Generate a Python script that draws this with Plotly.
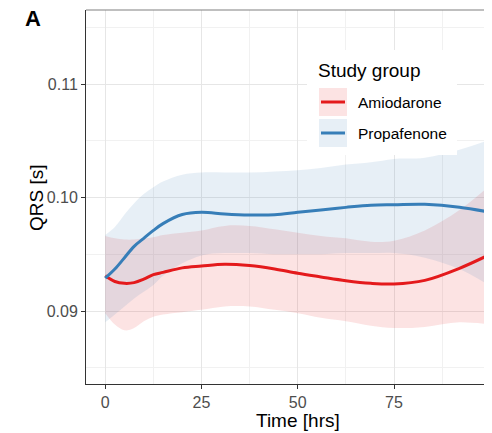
import plotly.graph_objects as go

# ---------------- data ----------------
time_hrs = [0, 2.5, 5, 7.5, 10, 12.5, 15, 20, 25, 31, 37.5, 44, 50, 56, 62.5, 69, 75, 83, 92, 100]

amio_fit = [0.0931, 0.0926, 0.09244, 0.0925, 0.0928, 0.0932, 0.0934, 0.0938, 0.09396, 0.09412,
            0.09400, 0.09370, 0.09332, 0.09300, 0.09267, 0.09244, 0.09238, 0.09270, 0.09376, 0.0950]
amio_upper = [0.0966, 0.0964, 0.0963, 0.0963, 0.0964, 0.0965, 0.0967, 0.0969, 0.0971, 0.0975,
              0.0975, 0.0972, 0.0969, 0.0966, 0.0964, 0.0961, 0.0962, 0.0971, 0.0989, 0.1011]
amio_lower = [0.0898, 0.0888, 0.0883, 0.0885, 0.0891, 0.0895, 0.0897, 0.0899, 0.0901, 0.0904,
              0.0904, 0.0901, 0.0898, 0.0894, 0.0891, 0.0887, 0.0885, 0.0886, 0.0890, 0.0888]

prop_fit = [0.0929, 0.0937, 0.0947, 0.0957, 0.0964, 0.0971, 0.0977, 0.0985, 0.0987, 0.09855,
            0.09846, 0.09848, 0.09870, 0.09890, 0.09913, 0.09932, 0.09936, 0.09940, 0.09915, 0.0987]
prop_upper = [0.0967, 0.0974, 0.0985, 0.0995, 0.1003, 0.1009, 0.1014, 0.1020, 0.1022, 0.1022,
              0.1022, 0.1023, 0.1024, 0.1026, 0.1029, 0.1031, 0.1034, 0.1035, 0.1042, 0.1051]
prop_lower = [0.0890, 0.0897, 0.0904, 0.0911, 0.0917, 0.0923, 0.0931, 0.0942, 0.0949, 0.0951,
              0.0951, 0.0950, 0.0950, 0.0950, 0.0951, 0.0951, 0.0951, 0.0947, 0.0937, 0.0922]

groups = ["Amiodarone", "Propafenone"]
x_ticks = [0, 25, 50, 75, 100]
y_ticks = [0.09, 0.10, 0.11]
y_tick_labels = ["0.09", "0.10", "0.11"]

RED = "#E41A1C"
BLUE = "#377EB8"
RED_FILL = "rgba(228,26,28,0.12)"
BLUE_FILL = "rgba(55,126,184,0.12)"

# the page body adds an 8px offset; positions below are given in page pixels
OFF = 8
W, H = 492, 433
ML = 86 - OFF
MT = 10 - OFF
PW = 492 - OFF - ML
MR = W - ML - PW
PH = 384 - 10
MB = H - MT - PH


def px(xp):
    return (xp - OFF - ML) / PW


def py(yp):
    return (MT + PH - (yp - OFF)) / PH


fig = go.Figure()

# ribbons
for upper, lower, fill in [(amio_upper, amio_lower, RED_FILL), (prop_upper, prop_lower, BLUE_FILL)]:
    fig.add_trace(go.Scatter(x=time_hrs, y=upper, mode="lines", line=dict(width=0, shape="spline"),
                             showlegend=False, hoverinfo="skip"))
    fig.add_trace(go.Scatter(x=time_hrs, y=lower, mode="lines", line=dict(width=0, shape="spline"),
                             fill="tonexty", fillcolor=fill, showlegend=False, hoverinfo="skip"))

# fitted lines
fig.add_trace(go.Scatter(x=time_hrs, y=amio_fit, mode="lines", name=groups[0],
                         line=dict(color=RED, width=3, shape="spline"), showlegend=False))
fig.add_trace(go.Scatter(x=time_hrs, y=prop_fit, mode="lines", name=groups[1],
                         line=dict(color=BLUE, width=3, shape="spline"), showlegend=False))

FONT = "Liberation Sans, Arial, Helvetica, sans-serif"

fig.update_layout(
    width=W, height=H,
    margin=dict(l=ML, r=MR, t=MT, b=MB),
    paper_bgcolor="white", plot_bgcolor="white",
    font=dict(family=FONT, color="black"),
    showlegend=False,
)

fig.update_xaxes(
    range=[-5, -5 + PW / 3.85], tickmode="array", tickvals=x_ticks,
    ticktext=[str(v) for v in x_ticks],
    showgrid=True, gridcolor="#e6e6e6", gridwidth=1.2,
    minor=dict(tickmode="array", tickvals=[12.5, 37.5, 62.5, 87.5], showgrid=True,
               gridcolor="#f1f1f1", gridwidth=1),
    zeroline=False, showline=True, linecolor="#333333", linewidth=1,
    ticks="outside", ticklen=4, tickcolor="#333333", tickwidth=1,
    tickfont=dict(size=16, color="#4d4d4d", family=FONT), automargin=False,
)
fig.update_yaxes(
    range=[0.10 - 186.5 / 11350, 0.10 + 187.5 / 11350], tickmode="array",
    tickvals=y_ticks, ticktext=y_tick_labels,
    showgrid=True, gridcolor="#e6e6e6", gridwidth=1.2,
    minor=dict(tickmode="array", tickvals=[0.085, 0.095, 0.105, 0.115], showgrid=True,
               gridcolor="#f1f1f1", gridwidth=1),
    zeroline=False, showline=True, linecolor="#333333", linewidth=1,
    ticks="outside", ticklen=4, tickcolor="#333333", tickwidth=1,
    tickfont=dict(size=16, color="#4d4d4d", family=FONT), automargin=False,
)

shapes = []
# top panel border
shapes.append(dict(type="line", xref="paper", yref="paper", x0=0, x1=1, y0=1, y1=1,
                   line=dict(color="#808080", width=1.2), layer="above"))
# legend box
shapes.append(dict(type="rect", xref="paper", yref="paper", x0=px(307), x1=px(457), y0=py(155), y1=py(50),
                   fillcolor="white", line=dict(width=0), layer="above"))
keys = [(RED_FILL, RED, 88, 116), (BLUE_FILL, BLUE, 119, 147)]
for fillc, linec, top, bot in keys:
    shapes.append(dict(type="rect", xref="paper", yref="paper", x0=px(319), x1=px(347), y0=py(bot), y1=py(top),
                       fillcolor=fillc, line=dict(width=0), layer="above"))
    mid = (top + bot) / 2
    shapes.append(dict(type="line", xref="paper", yref="paper", x0=px(321), x1=px(345), y0=py(mid), y1=py(mid),
                       line=dict(color=linec, width=3), layer="above"))
fig.update_layout(shapes=shapes)

annotations = [
    dict(text="Study group", xref="paper", yref="paper", x=px(316), y=py(71), xanchor="left",
         yanchor="middle", showarrow=False, font=dict(size=19, color="black", family=FONT)),
    dict(text=groups[0], xref="paper", yref="paper", x=px(356), y=py(102), xanchor="left",
         yanchor="middle", showarrow=False, font=dict(size=15.5, color="black", family=FONT)),
    dict(text=groups[1], xref="paper", yref="paper", x=px(356), y=py(133), xanchor="left",
         yanchor="middle", showarrow=False, font=dict(size=15.5, color="black", family=FONT)),
    dict(text="Time [hrs]", xref="paper", yref="paper", x=px(297.5), y=py(420), xanchor="center",
         yanchor="middle", showarrow=False, font=dict(size=19, color="black", family=FONT)),
    dict(text="QRS [s]", xref="paper", yref="paper", x=px(36), y=py(198), xanchor="center",
         yanchor="middle", showarrow=False, textangle=-90, font=dict(size=19, color="black", family=FONT)),
    dict(text="<b>A</b>", xref="paper", yref="paper", x=px(23), y=py(19), xanchor="left",
         yanchor="middle", showarrow=False, font=dict(size=22, color="black", family=FONT)),
]
fig.update_layout(annotations=annotations)

fig.write_html("out.html")
